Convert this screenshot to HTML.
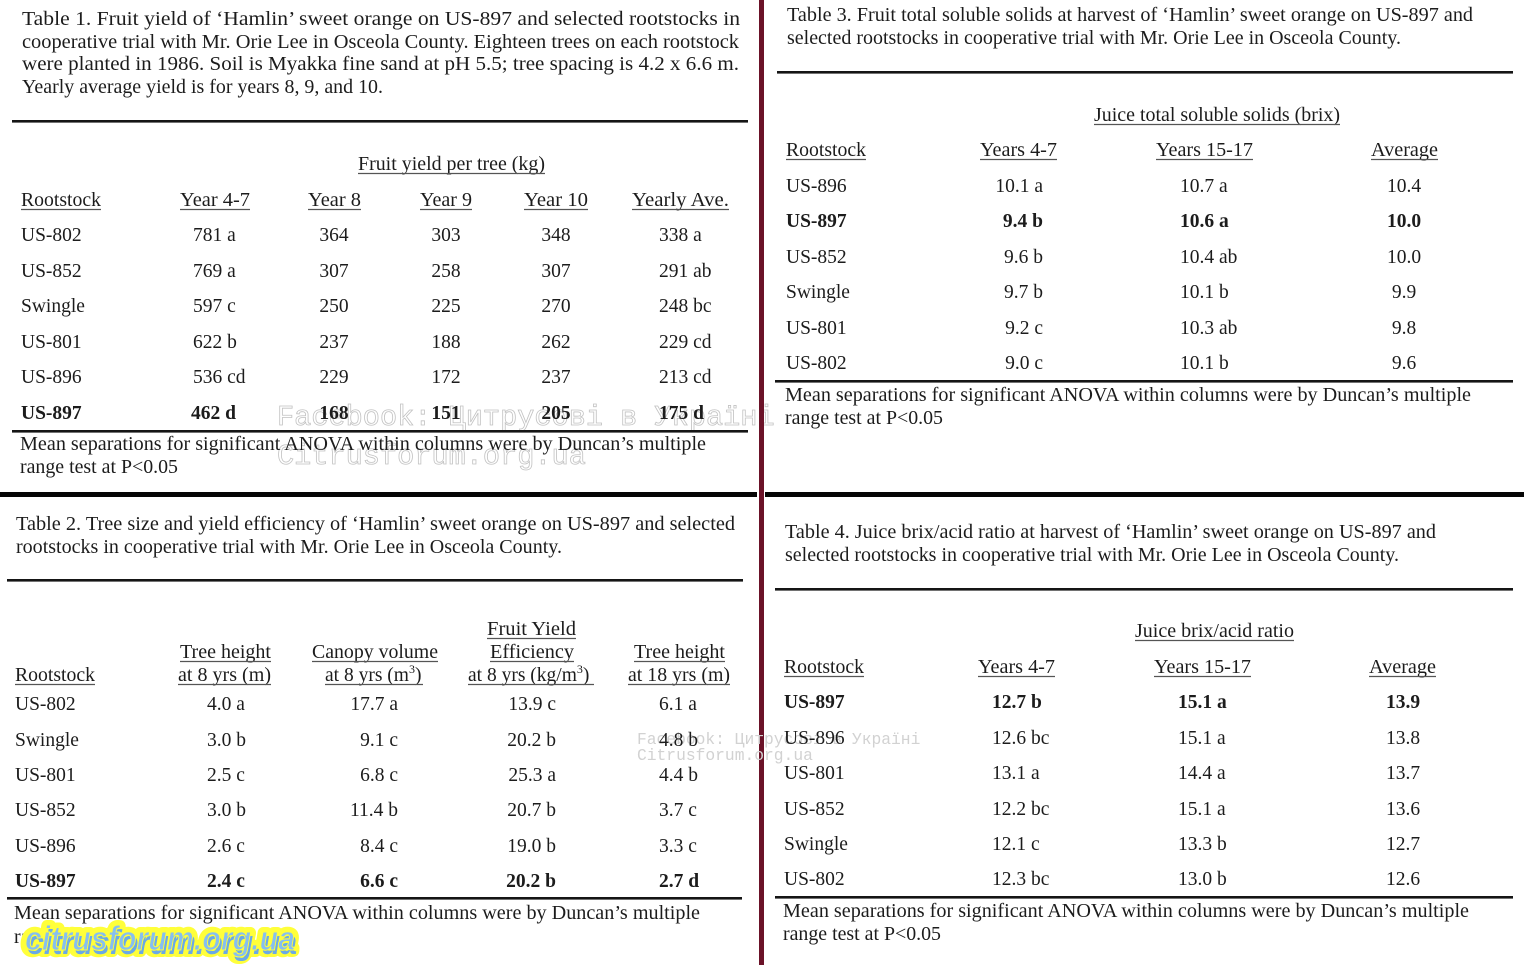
<!DOCTYPE html>
<html>
<head>
<meta charset="utf-8">
<style>
  html,body{margin:0;padding:0;background:#fff;}
  svg{display:block;}
  .t{font-family:"Liberation Serif","Noto Serif CJK SC",serif;font-size:19.5px;fill:#1c1c1c;}
  .b{font-weight:bold;}
  .wm{font-family:"Liberation Mono","DejaVu Sans Mono",monospace;}
</style>
</head>
<body>
<svg xmlns="http://www.w3.org/2000/svg" width="1524" height="972" viewBox="0 0 1524 972" xml:space="preserve">
<rect x="0" y="0" width="1524" height="972" fill="#ffffff"/>

<!-- watermark table 1 (under text) -->
<g class="wm" fill="none" stroke="#c2c2c2" stroke-width="0.8" font-size="28.6">
<text x="277" y="425">Facebook: Цитрусові в Україні</text>
<text x="277" y="464">Citrusforum.org.ua</text>
</g>

<!-- ================= TABLE 1 ================= -->
<g class="t">
<text x="22" y="25" textLength="718" lengthAdjust="spacingAndGlyphs">Table 1.  Fruit yield of ‘Hamlin’ sweet orange on US-897 and selected rootstocks in</text>
<text x="22" y="48" textLength="717" lengthAdjust="spacingAndGlyphs">cooperative trial with Mr. Orie Lee in Osceola County.  Eighteen trees on each rootstock</text>
<text x="22" y="70" textLength="717" lengthAdjust="spacingAndGlyphs">were planted in 1986.  Soil is Myakka fine sand at pH 5.5; tree spacing is 4.2 x 6.6 m.</text>
<text x="22" y="93" textLength="361" lengthAdjust="spacingAndGlyphs">Yearly average yield is for years 8, 9, and 10.</text>

<text x="358" y="170" textLength="187" lengthAdjust="spacingAndGlyphs">Fruit yield per tree (kg)</text>
<text x="21" y="206" textLength="80" lengthAdjust="spacingAndGlyphs">Rootstock</text>
<text x="180" y="206" textLength="70" lengthAdjust="spacingAndGlyphs">Year 4-7</text>
<text x="308" y="206" textLength="53" lengthAdjust="spacingAndGlyphs">Year 8</text>
<text x="420" y="206" textLength="52" lengthAdjust="spacingAndGlyphs">Year 9</text>
<text x="524" y="206" textLength="64" lengthAdjust="spacingAndGlyphs">Year 10</text>
<text x="632" y="206" textLength="97" lengthAdjust="spacingAndGlyphs">Yearly Ave.</text>

<text x="21" y="241">US-802</text><text x="193" y="241">781 a</text><text x="334" y="241" text-anchor="middle">364</text><text x="446" y="241" text-anchor="middle">303</text><text x="556" y="241" text-anchor="middle">348</text><text x="659" y="241">338 a</text>
<text x="21" y="277">US-852</text><text x="193" y="277">769 a</text><text x="334" y="277" text-anchor="middle">307</text><text x="446" y="277" text-anchor="middle">258</text><text x="556" y="277" text-anchor="middle">307</text><text x="659" y="277">291 ab</text>
<text x="21" y="312">Swingle</text><text x="193" y="312">597 c</text><text x="334" y="312" text-anchor="middle">250</text><text x="446" y="312" text-anchor="middle">225</text><text x="556" y="312" text-anchor="middle">270</text><text x="659" y="312">248 bc</text>
<text x="21" y="348">US-801</text><text x="193" y="348">622 b</text><text x="334" y="348" text-anchor="middle">237</text><text x="446" y="348" text-anchor="middle">188</text><text x="556" y="348" text-anchor="middle">262</text><text x="659" y="348">229 cd</text>
<text x="21" y="383">US-896</text><text x="193" y="383">536 cd</text><text x="334" y="383" text-anchor="middle">229</text><text x="446" y="383" text-anchor="middle">172</text><text x="556" y="383" text-anchor="middle">237</text><text x="659" y="383">213 cd</text>
<g class="b"><text x="21" y="419">US-897</text><text x="191" y="419">462 d</text><text x="334" y="419" text-anchor="middle">168</text><text x="446" y="419" text-anchor="middle">151</text><text x="556" y="419" text-anchor="middle">205</text><text x="659" y="419">175 d</text></g>

<text x="20" y="450" textLength="686" lengthAdjust="spacingAndGlyphs">Mean separations for significant ANOVA within columns were by Duncan’s multiple</text>
<text x="20" y="473" textLength="158" lengthAdjust="spacingAndGlyphs">range test at P&lt;0.05</text>
</g>
<g stroke="#555" stroke-width="1.2">
<line x1="358" y1="173.5" x2="545" y2="173.5"/>
<line x1="21" y1="209.5" x2="101" y2="209.5"/>
<line x1="180" y1="209.5" x2="250" y2="209.5"/>
<line x1="308" y1="209.5" x2="361" y2="209.5"/>
<line x1="420" y1="209.5" x2="472" y2="209.5"/>
<line x1="524" y1="209.5" x2="588" y2="209.5"/>
<line x1="632" y1="209.5" x2="729" y2="209.5"/>
</g>
<rect x="12" y="120" width="736" height="2.6" fill="#151515"/>
<rect x="12" y="430" width="736" height="2.6" fill="#151515"/>

<!-- ================= TABLE 2 ================= -->
<g class="t">
<text x="16" y="530" textLength="719" lengthAdjust="spacingAndGlyphs">Table 2.  Tree size and yield efficiency of ‘Hamlin’ sweet orange on US-897 and selected</text>
<text x="16" y="553" textLength="546" lengthAdjust="spacingAndGlyphs">rootstocks in cooperative trial with Mr. Orie Lee in Osceola County.</text>

<text x="487" y="635" textLength="89" lengthAdjust="spacingAndGlyphs">Fruit Yield</text>
<text x="180" y="658" textLength="91" lengthAdjust="spacingAndGlyphs">Tree height</text>
<text x="312" y="658" textLength="126" lengthAdjust="spacingAndGlyphs">Canopy volume</text>
<text x="490" y="658" textLength="84" lengthAdjust="spacingAndGlyphs">Efficiency</text>
<text x="634" y="658" textLength="91" lengthAdjust="spacingAndGlyphs">Tree height</text>
<text x="15" y="681" textLength="80" lengthAdjust="spacingAndGlyphs">Rootstock</text>
<text x="178" y="681" textLength="93" lengthAdjust="spacingAndGlyphs">at 8 yrs (m)</text>
<text x="325" y="681">at 8 yrs (m<tspan font-size="12" dy="-8">3</tspan><tspan dy="8">)</tspan></text>
<text x="468" y="681">at 8 yrs (kg/m<tspan font-size="12" dy="-8">3</tspan><tspan dy="8">)</tspan></text>
<text x="628" y="681" textLength="102" lengthAdjust="spacingAndGlyphs">at 18 yrs (m)</text>

<text x="15" y="710">US-802</text><text x="207" y="710">4.0 a</text><text x="398" y="710" text-anchor="end">17.7 a</text><text x="556" y="710" text-anchor="end">13.9 c</text><text x="659" y="710">6.1 a</text>
<text x="15" y="746">Swingle</text><text x="207" y="746">3.0 b</text><text x="398" y="746" text-anchor="end">9.1 c</text><text x="556" y="746" text-anchor="end">20.2 b</text>
<text x="15" y="781">US-801</text><text x="207" y="781">2.5 c</text><text x="398" y="781" text-anchor="end">6.8 c</text><text x="556" y="781" text-anchor="end">25.3 a</text><text x="659" y="781">4.4 b</text>
<text x="15" y="816">US-852</text><text x="207" y="816">3.0 b</text><text x="398" y="816" text-anchor="end">11.4 b</text><text x="556" y="816" text-anchor="end">20.7 b</text><text x="659" y="816">3.7 c</text>
<text x="15" y="852">US-896</text><text x="207" y="852">2.6 c</text><text x="398" y="852" text-anchor="end">8.4 c</text><text x="556" y="852" text-anchor="end">19.0 b</text><text x="659" y="852">3.3 c</text>
<g class="b"><text x="15" y="887">US-897</text><text x="207" y="887">2.4 c</text><text x="398" y="887" text-anchor="end">6.6 c</text><text x="556" y="887" text-anchor="end">20.2 b</text><text x="659" y="887">2.7 d</text></g>

<text x="14" y="919" textLength="686" lengthAdjust="spacingAndGlyphs">Mean separations for significant ANOVA within columns were by Duncan’s multiple</text>
<text x="14" y="943" textLength="158" lengthAdjust="spacingAndGlyphs">range test at P&lt;0.05</text>
</g>
<g stroke="#555" stroke-width="1.2">
<line x1="487" y1="638.5" x2="576" y2="638.5"/>
<line x1="180" y1="661.5" x2="271" y2="661.5"/>
<line x1="312" y1="661.5" x2="438" y2="661.5"/>
<line x1="490" y1="661.5" x2="574" y2="661.5"/>
<line x1="634" y1="661.5" x2="725" y2="661.5"/>
<line x1="15" y1="684.5" x2="95" y2="684.5"/>
<line x1="178" y1="684.5" x2="271" y2="684.5"/>
<line x1="325" y1="684.5" x2="423" y2="684.5"/>
<line x1="468" y1="684.5" x2="594" y2="684.5"/>
<line x1="628" y1="684.5" x2="730" y2="684.5"/>
</g>
<rect x="7" y="579" width="736" height="2.6" fill="#151515"/>
<rect x="7" y="897" width="735" height="2.6" fill="#151515"/>

<!-- ================= TABLE 3 ================= -->
<g class="t">
<text x="787" y="21" textLength="686" lengthAdjust="spacingAndGlyphs">Table 3.  Fruit total soluble solids at harvest of ‘Hamlin’ sweet orange on US-897 and</text>
<text x="787" y="44" textLength="614" lengthAdjust="spacingAndGlyphs">selected rootstocks in cooperative trial with Mr. Orie Lee in Osceola County.</text>

<text x="1094" y="121" textLength="246" lengthAdjust="spacingAndGlyphs">Juice total soluble solids (brix)</text>
<text x="786" y="156" textLength="80" lengthAdjust="spacingAndGlyphs">Rootstock</text>
<text x="980" y="156" textLength="77" lengthAdjust="spacingAndGlyphs">Years 4-7</text>
<text x="1156" y="156" textLength="97" lengthAdjust="spacingAndGlyphs">Years 15-17</text>
<text x="1371" y="156" textLength="67" lengthAdjust="spacingAndGlyphs">Average</text>

<text x="786" y="192">US-896</text><text x="1043" y="192" text-anchor="end">10.1 a</text><text x="1180" y="192">10.7 a</text><text x="1404" y="192" text-anchor="middle">10.4</text>
<g class="b"><text x="786" y="227">US-897</text><text x="1043" y="227" text-anchor="end">9.4 b</text><text x="1180" y="227">10.6 a</text><text x="1404" y="227" text-anchor="middle">10.0</text></g>
<text x="786" y="263">US-852</text><text x="1043" y="263" text-anchor="end">9.6 b</text><text x="1180" y="263">10.4 ab</text><text x="1404" y="263" text-anchor="middle">10.0</text>
<text x="786" y="298">Swingle</text><text x="1043" y="298" text-anchor="end">9.7 b</text><text x="1180" y="298">10.1 b</text><text x="1404" y="298" text-anchor="middle">9.9</text>
<text x="786" y="334">US-801</text><text x="1043" y="334" text-anchor="end">9.2 c</text><text x="1180" y="334">10.3 ab</text><text x="1404" y="334" text-anchor="middle">9.8</text>
<text x="786" y="369">US-802</text><text x="1043" y="369" text-anchor="end">9.0 c</text><text x="1180" y="369">10.1 b</text><text x="1404" y="369" text-anchor="middle">9.6</text>

<text x="785" y="401" textLength="686" lengthAdjust="spacingAndGlyphs">Mean separations for significant ANOVA within columns were by Duncan’s multiple</text>
<text x="785" y="424" textLength="158" lengthAdjust="spacingAndGlyphs">range test at P&lt;0.05</text>
</g>
<g stroke="#555" stroke-width="1.2">
<line x1="1094" y1="124.5" x2="1340" y2="124.5"/>
<line x1="786" y1="159.5" x2="866" y2="159.5"/>
<line x1="980" y1="159.5" x2="1057" y2="159.5"/>
<line x1="1156" y1="159.5" x2="1253" y2="159.5"/>
<line x1="1371" y1="159.5" x2="1438" y2="159.5"/>
</g>
<rect x="777" y="71" width="736" height="2.6" fill="#151515"/>
<rect x="775" y="380" width="738" height="2.6" fill="#151515"/>

<!-- ================= TABLE 4 ================= -->
<g class="t">
<text x="785" y="538" textLength="651" lengthAdjust="spacingAndGlyphs">Table 4.  Juice brix/acid ratio at harvest of ‘Hamlin’ sweet orange on US-897 and</text>
<text x="785" y="561" textLength="614" lengthAdjust="spacingAndGlyphs">selected rootstocks in cooperative trial with Mr. Orie Lee in Osceola County.</text>

<text x="1135" y="637" textLength="159" lengthAdjust="spacingAndGlyphs">Juice brix/acid ratio</text>
<text x="784" y="673" textLength="80" lengthAdjust="spacingAndGlyphs">Rootstock</text>
<text x="978" y="673" textLength="77" lengthAdjust="spacingAndGlyphs">Years 4-7</text>
<text x="1154" y="673" textLength="97" lengthAdjust="spacingAndGlyphs">Years 15-17</text>
<text x="1369" y="673" textLength="67" lengthAdjust="spacingAndGlyphs">Average</text>

<g class="b"><text x="784" y="708">US-897</text><text x="992" y="708">12.7 b</text><text x="1178" y="708">15.1 a</text><text x="1403" y="708" text-anchor="middle">13.9</text></g>
<text x="992" y="744">12.6 bc</text><text x="1178" y="744">15.1 a</text><text x="1403" y="744" text-anchor="middle">13.8</text>
<text x="784" y="779">US-801</text><text x="992" y="779">13.1 a</text><text x="1178" y="779">14.4 a</text><text x="1403" y="779" text-anchor="middle">13.7</text>
<text x="784" y="815">US-852</text><text x="992" y="815">12.2 bc</text><text x="1178" y="815">15.1 a</text><text x="1403" y="815" text-anchor="middle">13.6</text>
<text x="784" y="850">Swingle</text><text x="992" y="850">12.1 c</text><text x="1178" y="850">13.3 b</text><text x="1403" y="850" text-anchor="middle">12.7</text>
<text x="784" y="885">US-802</text><text x="992" y="885">12.3 bc</text><text x="1178" y="885">13.0 b</text><text x="1403" y="885" text-anchor="middle">12.6</text>

<text x="783" y="917" textLength="686" lengthAdjust="spacingAndGlyphs">Mean separations for significant ANOVA within columns were by Duncan’s multiple</text>
<text x="783" y="940" textLength="158" lengthAdjust="spacingAndGlyphs">range test at P&lt;0.05</text>
</g>
<g stroke="#555" stroke-width="1.2">
<line x1="1135" y1="640.5" x2="1294" y2="640.5"/>
<line x1="784" y1="676.5" x2="864" y2="676.5"/>
<line x1="978" y1="676.5" x2="1055" y2="676.5"/>
<line x1="1154" y1="676.5" x2="1251" y2="676.5"/>
<line x1="1369" y1="676.5" x2="1436" y2="676.5"/>
</g>
<rect x="775" y="588" width="738" height="2.6" fill="#151515"/>
<rect x="775" y="896" width="738" height="2.6" fill="#151515"/>

<!-- ================= SEPARATORS ================= -->
<rect x="0" y="492" width="757" height="5" fill="#050505"/>
<rect x="765" y="492" width="759" height="5" fill="#050505"/>
<rect x="759" y="0" width="5" height="965" fill="#6b1228"/>

<!-- small watermark table 2 -->
<g class="wm" fill="#d2d2d2" font-size="16.3">
<text x="637" y="744">Facebook: Цитрусові в Україні</text>
<text x="637" y="760">Citrusforum.org.ua</text>
</g>
<g class="t">
<text x="659" y="746">4.8 b</text>
<text x="784" y="744">US-896</text>
</g>

<!-- yellow watermark -->
<g font-family="Liberation Sans, DejaVu Sans, sans-serif" font-weight="bold" font-style="italic" font-size="34">
<text x="25" y="951" textLength="270" lengthAdjust="spacingAndGlyphs" fill="#ffff3a" stroke="#ffff3a" stroke-width="12" stroke-linejoin="round">citrusforum.org.ua</text>
<text x="27" y="954" textLength="270" lengthAdjust="spacingAndGlyphs" fill="#6aa9e6">citrusforum.org.ua</text>
<text x="25" y="950" textLength="270" lengthAdjust="spacingAndGlyphs" fill="#86bff0" stroke="#ffff3a" stroke-width="1">citrusforum.org.ua</text>
</g>
</svg>
</body>
</html>
